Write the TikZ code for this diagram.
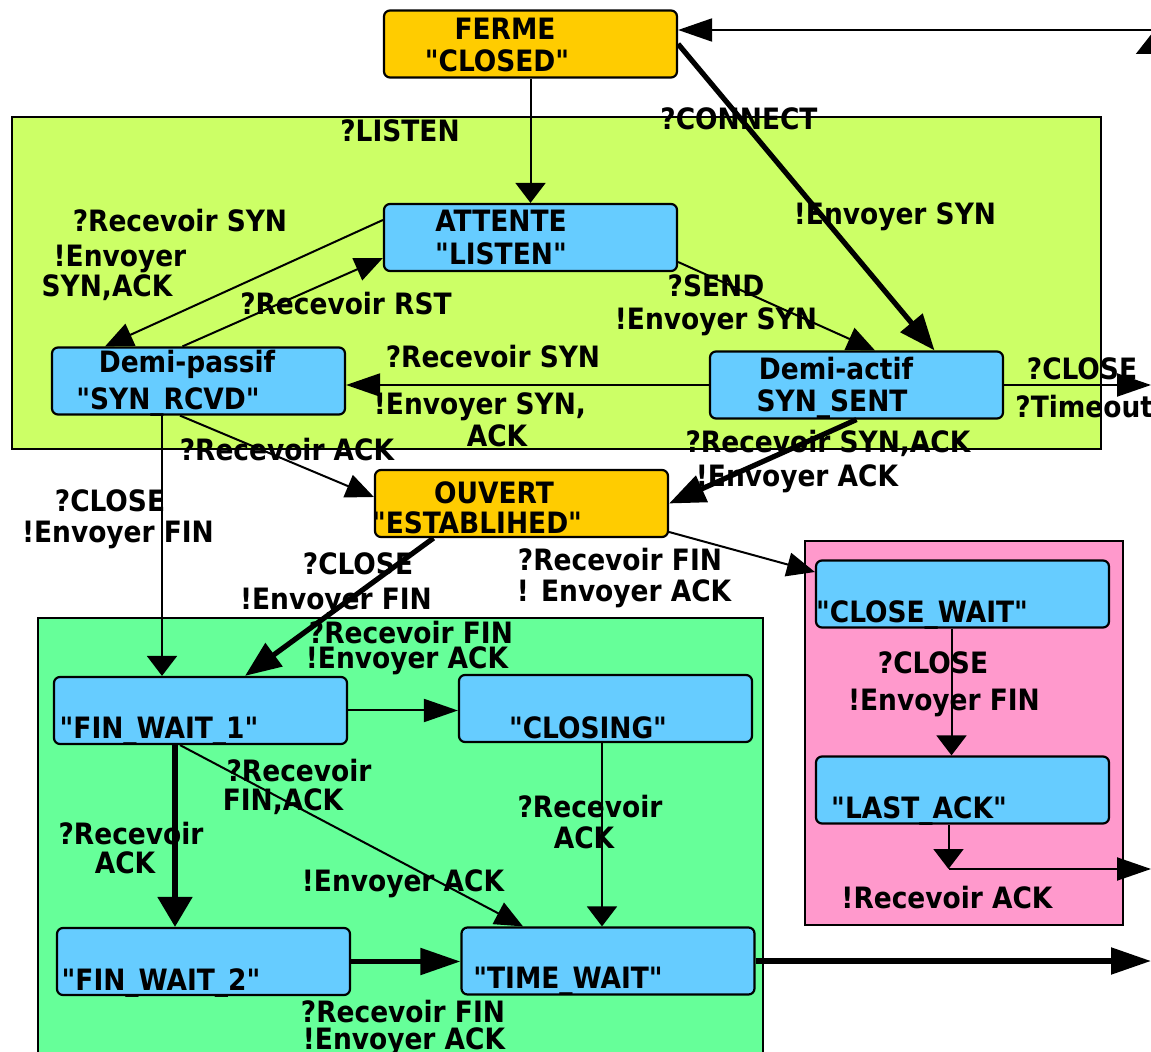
\documentclass[tikz,border=0pt]{standalone}
\usepackage{fontspec}
\setmainfont{DejaVu Sans Condensed}[BoldFont={DejaVu Sans Condensed Bold},Ligatures=TeXOff]
\usetikzlibrary{arrows.meta}
\definecolor{etferme}{HTML}{FFCC00}
\definecolor{etbleu}{HTML}{66CCFF}
\definecolor{zoneouv}{HTML}{CCFF66}
\definecolor{zoneferm}{HTML}{66FF99}
\definecolor{zonepass}{HTML}{FF99CC}

\tikzset{
  pointeH/.tip={Triangle[length=17pt,width=11.5pt]},
  pointeV/.tip={Triangle[length=10pt,width=15pt]},
  pointeD/.tip={Triangle[length=14pt,width=12pt]},
  grosseH/.tip={Triangle[length=20pt,width=13pt]},
  grosseV/.tip={Triangle[length=15pt,width=17pt]},
  grosseD/.tip={Triangle[length=18pt,width=14pt]},
}

\begin{document}
\begin{tikzpicture}[x=0.5pt,y=-0.5pt,
  font=\fontsize{14.7}{16}\selectfont\bfseries,
  box/.style={draw,line width=1.1pt,rounded corners=3pt,
    minimum width=146.5pt,minimum height=33.5pt,inner sep=0pt},
  etat/.style={box,fill=etbleu},
  pivot/.style={box,fill=etferme},
  zone/.style={draw,line width=1.1pt},
  tx/.style={anchor=base,inner sep=0pt},
  fin/.style={line width=1pt},
  gros/.style={line width=2.6pt}]

  \useasboundingbox (0,0) rectangle (1151,1052);
  \fill[white] (0,0) rectangle (1151,1052);
  \clip (0,0) rectangle (1151,1052);

  % --- zones ---
  \draw[zone,fill=zoneouv] (12,117) rectangle (1101,449);
  \draw[zone,fill=zonepass] (805,541) rectangle (1123,925);
  \draw[zone,fill=zoneferm] (38,618) rectangle (763,1075);

  % --- etats ---
  \node[pivot] (closed) at (530.5,44) {};
  \node[etat] (listen) at (530.5,237.5) {};
  \node[etat] (synrcvd) at (198.5,381) {};
  \node[etat] (synsent) at (856.5,385) {};
  \node[pivot] (estab) at (521.5,503.5) {};
  \node[etat] (closewait) at (962.5,594) {};
  \node[etat] (lastack) at (962.5,790) {};
  \node[etat] (finwaitA) at (200.5,710.5) {};
  \node[etat] (closing) at (605.5,708.5) {};
  \node[etat] (finwaitB) at (203.5,961.5) {};
  \node[etat] (timewait) at (608,961) {};

  % --- sorties du cadre ---
  \coordinate (retour) at (1165,30);
  \coordinate (coinbas) at (1153,130);
  \coordinate (coinhaut) at (1153,32);
  \coordinate (sortieA) at (1151,385);
  \coordinate (angle) at (948.5,869);
  \coordinate (sortieB) at (1151,869);
  \coordinate (sortieC) at (1151,961);

  % --- transitions ---
  \draw[fin,-{pointeV}] (closed.south) -- (listen.north);
  \draw[gros,-{grosseD}] (closed.east) -- ([xshift=39pt]synsent.north);
  \draw[fin,-{pointeH}] (retour) -- ([yshift=7pt]closed.east);
  \draw[fin,-{Triangle[length=11pt,width=17pt]}] (coinbas) -- (coinhaut);
  \draw[fin,-{pointeD}] ([yshift=8.75pt]listen.west) -- ([xshift=-46.75pt]synrcvd.north);
  \draw[fin,-{pointeD}] ([xshift=-8pt]synrcvd.north) -- ([yshift=-10.25pt]listen.west);
  \draw[fin,-{pointeD}] ([yshift=-12.25pt]listen.east) -- ([xshift=9.25pt]synsent.north);
  \draw[fin,-{pointeH}] (synsent.west) -- (synsent.west -| synrcvd.east);
  \draw[fin,-{pointeH}] (synsent.east) -- (sortieA);
  \draw[fin,-{pointeV}] ([xshift=-18.25pt]synrcvd.south)
    -- ([xshift=-18.25pt]synrcvd.south |- finwaitA.north);
  \draw[fin,-{pointeD}] ([xshift=-9.25pt]synrcvd.south) -- ([yshift=3.25pt]estab.west);
  \draw[gros,-{grosseD}] (synsent.south) -- (estab.east);
  \draw[gros,-{grosseD}] ([xshift=-44pt]estab.south) -- ([xshift=22.25pt]finwaitA.north);
  \draw[fin,-{pointeD}] ([yshift=-14.25pt]estab.east) -- ([yshift=11pt]closewait.west);
  \draw[fin,-{pointeV}] ([xshift=-5.5pt]closewait.south) -- ([xshift=-5.5pt]lastack.north);
  \draw[fin,-{pointeV}] ([xshift=-7pt]lastack.south) -- (angle);
  \draw[fin,-{pointeH}] (angle) -- (sortieB);
  \draw[fin,-{pointeH}] (finwaitA.east) -- (finwaitA.east -| closing.west);
  \draw[gros,-{grosseV}] ([xshift=-12.75pt]finwaitA.south)
    -- ([xshift=-12.75pt]finwaitA.south |- finwaitB.north);
  \draw[fin,-{pointeD}] ([xshift=-10.25pt]finwaitA.south) -- ([xshift=-42.5pt]timewait.north);
  \draw[fin,-{pointeV}] ([xshift=-1.75pt]closing.south)
    -- ([xshift=-1.75pt]closing.south |- timewait.north);
  \draw[gros,-{grosseH}] (finwaitB.east) -- (finwaitB.east -| timewait.west);
  \draw[gros,-{grosseH}] (timewait.east) -- (sortieC);

  % --- noms des etats ---
  \node[tx] (tferme) at (505,40) {FERME};
  \node[tx] (tclosed) at (497,72) {"CLOSED"};
  \node[tx] (tattente) at (501,232) {ATTENTE};
  \node[tx] (tlisten) at (501,265) {"LISTEN"};
  \node[tx] (tdemip) at (187,373) {Demi-passif};
  \node[tx] (tsynrcvd) at (168,410) {"SYN\_RCVD"};
  \node[tx] (tdemia) at (836,380) {Demi-actif};
  \node[tx] (tsynsent) at (832,412) {SYN\_SENT};
  \node[tx] (touvert) at (494,504) {OUVERT};
  \node[tx] (testab) at (477,534) {"ESTABLIHED"};
  \node[tx] (tclosewait) at (922,623) {"CLOSE\_WAIT"};
  \node[tx] (tlastack) at (919,819) {"LAST\_ACK"};
  \node[tx] (tfinwaitA) at (159,739) {"FIN\_WAIT\_1"};
  \node[tx] (tclosing) at (588,739) {"CLOSING"};
  \node[tx] (tfinwaitB) at (161,990) {"FIN\_WAIT\_2"};
  \node[tx] (ttimewait) at (568,988) {"TIME\_WAIT"};

  % --- evenements / actions ---
  \node[tx] (eListen) at (400,142) {?LISTEN};
  \node[tx] (eConnect) at (739,130) {?CONNECT};
  \node[tx] (aConnect) at (895,225) {!Envoyer SYN};
  \node[tx] (ePassif) at (180,232) {?Recevoir SYN};
  \node[tx] (aPassifA) at (120,267) {!Envoyer};
  \node[tx] (aPassifB) at (107,297) {SYN,ACK};
  \node[tx] (eRst) at (346,315) {?Recevoir RST};
  \node[tx] (eSend) at (716,297) {?SEND};
  \node[tx] (aSend) at (716,330) {!Envoyer SYN};
  \node[tx] (eSimul) at (493,368) {?Recevoir SYN};
  \node[tx] (aSimulA) at (480,415) {!Envoyer SYN,};
  \node[tx] (aSimulB) at (497,447) {ACK};
  \node[tx] (eCloseA) at (1082,380) {?CLOSE};
  \node[tx,anchor=base west] (eTimeout) at (1015,418) {?Timeout};
  \node[tx] (eSynAck) at (828,453) {?Recevoir SYN,ACK};
  \node[tx] (aSynAck) at (797,487) {!Envoyer ACK};
  \node[tx] (eAck) at (287,461) {?Recevoir ACK};
  \node[tx] (eCloseB) at (110,512) {?CLOSE};
  \node[tx] (aCloseB) at (118,543) {!Envoyer FIN};
  \node[tx] (eCloseC) at (358,575) {?CLOSE};
  \node[tx] (aCloseC) at (336,610) {!Envoyer FIN};
  \node[tx] (eFinA) at (620,571) {?Recevoir FIN};
  \node[tx] (aFinA) at (624,602) {! Envoyer ACK};
  \node[tx] (eFinB) at (411,644) {?Recevoir FIN};
  \node[tx] (aFinB) at (407,669) {!Envoyer ACK};
  \node[tx] (eCloseD) at (933,674) {?CLOSE};
  \node[tx] (aCloseD) at (944,711) {!Envoyer FIN};
  \node[tx] (eLast) at (947,908) {!Recevoir ACK};
  \node[tx] (eFinAckA) at (299,782) {?Recevoir};
  \node[tx] (eFinAckB) at (283,811) {FIN,ACK};
  \node[tx] (eAckA) at (131,844) {?Recevoir};
  \node[tx] (eAckB) at (125,873) {ACK};
  \node[tx] (eAckC) at (590,817) {?Recevoir};
  \node[tx] (eAckD) at (584,848) {ACK};
  \node[tx] (aFinAck) at (403,891) {!Envoyer ACK};
  \node[tx] (eFinC) at (403,1022) {?Recevoir FIN};
  \node[tx] (aFinC) at (404,1049) {!Envoyer ACK};

\end{tikzpicture}
\end{document}
